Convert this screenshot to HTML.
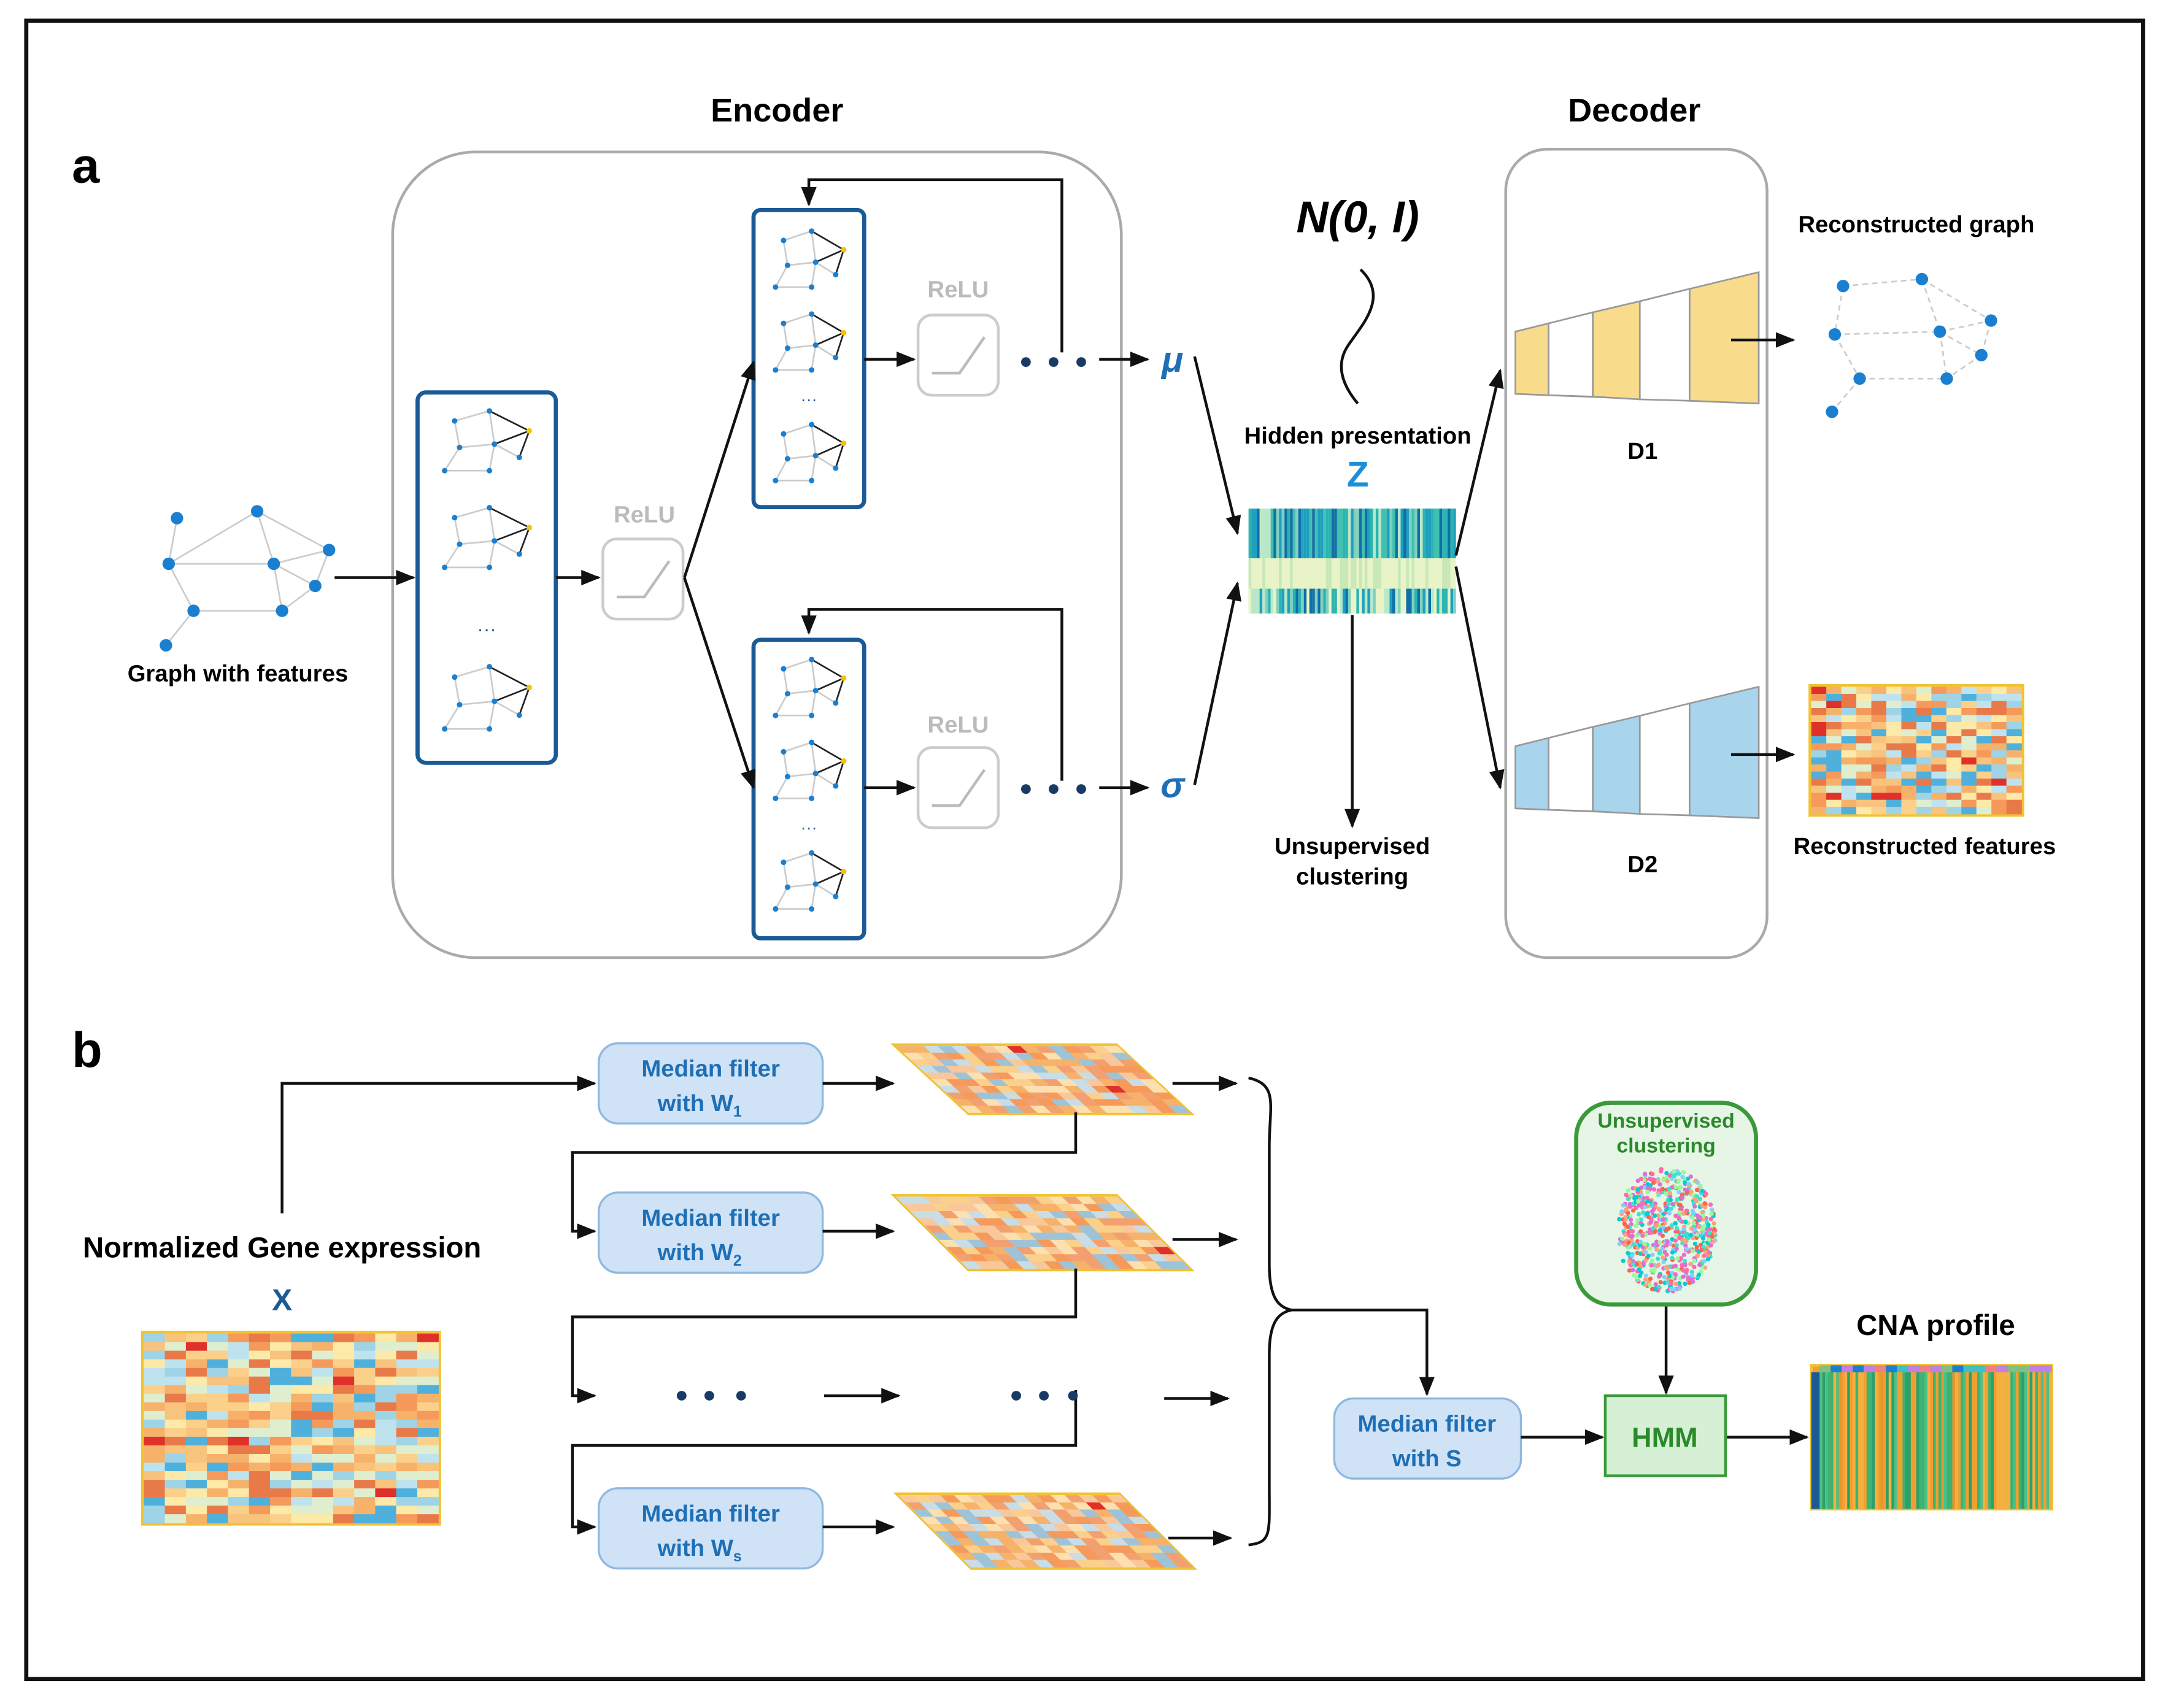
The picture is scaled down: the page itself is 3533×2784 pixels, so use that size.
<!DOCTYPE html>
<html><head><meta charset="utf-8">
<style>
html,body{margin:0;padding:0;background:#fff;}
svg{display:block;}
text{font-family:"Liberation Sans","DejaVu Sans",sans-serif;}
</style></head>
<body>
<svg id="s" xmlns="http://www.w3.org/2000/svg" width="3533" height="2784" viewBox="0 0 1568 1236" preserveAspectRatio="none">
<defs>
<marker id="ar" viewBox="0 0 10 10" refX="9" refY="5" markerWidth="7" markerHeight="7" orient="auto-start-reverse"><path d="M0,1 L10,5 L0,9 z" fill="#111"/></marker>
</defs>
<rect x="0" y="0" width="1568" height="1236" fill="#fff"/>
<rect x="19" y="15" width="1531" height="1200" fill="none" stroke="#111" stroke-width="3"/>

<!-- labels -->
<text x="52" y="132" font-size="36" font-weight="bold">a</text>
<text x="52" y="772" font-size="36" font-weight="bold">b</text>
<text x="562" y="88" font-size="24" font-weight="bold" text-anchor="middle">Encoder</text>
<text x="1182" y="88" font-size="24" font-weight="bold" text-anchor="middle">Decoder</text>

<rect x="284" y="110" width="527" height="583" rx="60" fill="none" stroke="#aaa" stroke-width="2"/>
<rect x="1089" y="108" width="189" height="585" rx="30" fill="none" stroke="#aaa" stroke-width="2"/>

<g id="graphs"></g>

<text x="172" y="493" font-size="17" font-weight="bold" text-anchor="middle">Graph with features</text>
<line x1="242" y1="418" x2="299" y2="418" stroke="#111" stroke-width="2" marker-end="url(#ar)"/>

<rect x="302" y="284" width="100" height="268" rx="6" fill="none" stroke="#1a5a96" stroke-width="3"/>
<rect x="545" y="152" width="80" height="215" rx="5" fill="none" stroke="#1a5a96" stroke-width="3"/>
<rect x="545" y="463" width="80" height="216" rx="5" fill="none" stroke="#1a5a96" stroke-width="3"/>
<text x="352" y="460" font-size="14" text-anchor="middle" fill="#1a5a96">···</text>
<text x="585" y="293" font-size="12" text-anchor="middle" fill="#1a5a96">···</text>
<text x="585" y="603" font-size="12" text-anchor="middle" fill="#1a5a96">···</text>

<line x1="402" y1="418" x2="433" y2="418" stroke="#111" stroke-width="2" marker-end="url(#ar)"/>
<text x="466" y="378" font-size="17" font-weight="bold" fill="#bbb" text-anchor="middle">ReLU</text>
<rect x="436" y="390" width="58" height="58" rx="10" fill="#fff" stroke="#ccc" stroke-width="2"/>
<path d="M446,432 L466,432 L484,406" fill="none" stroke="#bbb" stroke-width="2"/>
<line x1="495" y1="418" x2="545" y2="262" stroke="#111" stroke-width="2" marker-end="url(#ar)"/>
<line x1="495" y1="418" x2="545" y2="570" stroke="#111" stroke-width="2" marker-end="url(#ar)"/>

<line x1="625" y1="260" x2="661" y2="260" stroke="#111" stroke-width="2" marker-end="url(#ar)"/>
<text x="693" y="215" font-size="17" font-weight="bold" fill="#bbb" text-anchor="middle">ReLU</text>
<rect x="664" y="228" width="58" height="58" rx="10" fill="#fff" stroke="#ccc" stroke-width="2"/>
<path d="M674,270 L694,270 L712,244" fill="none" stroke="#bbb" stroke-width="2"/>
<circle cx="742" cy="262" r="3.5" fill="#1a3a66"/><circle cx="762" cy="262" r="3.5" fill="#1a3a66"/><circle cx="782" cy="262" r="3.5" fill="#1a3a66"/>
<line x1="795" y1="260" x2="830" y2="260" stroke="#111" stroke-width="2" marker-end="url(#ar)"/>
<text x="848" y="269" font-size="26" font-weight="bold" font-style="italic" fill="#1e6fb5" text-anchor="middle" font-family="Liberation Serif,serif">μ</text>
<path d="M768,255 L768,130 L585,130 L585,148" fill="none" stroke="#111" stroke-width="2" marker-end="url(#ar)"/>

<line x1="625" y1="570" x2="661" y2="570" stroke="#111" stroke-width="2" marker-end="url(#ar)"/>
<text x="693" y="530" font-size="17" font-weight="bold" fill="#bbb" text-anchor="middle">ReLU</text>
<rect x="664" y="541" width="58" height="58" rx="10" fill="#fff" stroke="#ccc" stroke-width="2"/>
<path d="M674,583 L694,583 L712,557" fill="none" stroke="#bbb" stroke-width="2"/>
<circle cx="742" cy="571" r="3.5" fill="#1a3a66"/><circle cx="762" cy="571" r="3.5" fill="#1a3a66"/><circle cx="782" cy="571" r="3.5" fill="#1a3a66"/>
<line x1="795" y1="570" x2="830" y2="570" stroke="#111" stroke-width="2" marker-end="url(#ar)"/>
<text x="848" y="577" font-size="26" font-weight="bold" font-style="italic" fill="#1e6fb5" text-anchor="middle" font-family="Liberation Serif,serif">σ</text>
<path d="M768,565 L768,441 L585,441 L585,458" fill="none" stroke="#111" stroke-width="2" marker-end="url(#ar)"/>

<line x1="864" y1="258" x2="895" y2="386" stroke="#111" stroke-width="2" marker-end="url(#ar)"/>
<line x1="864" y1="568" x2="895" y2="422" stroke="#111" stroke-width="2" marker-end="url(#ar)"/>

<text x="982" y="168" font-size="32" font-weight="bold" font-style="italic" text-anchor="middle" font-family="Liberation Serif,serif">N(0, I)</text>
<path d="M984,195 C1005,215 985,235 975,250 C965,265 972,280 982,292" fill="none" stroke="#111" stroke-width="2"/>
<text x="982" y="321" font-size="17" font-weight="bold" text-anchor="middle">Hidden presentation</text>
<text x="982" y="352" font-size="26" font-weight="bold" fill="#1e8fd6" text-anchor="middle">Z</text>
<g id="zmap"></g>
<line x1="978" y1="445" x2="978" y2="598" stroke="#111" stroke-width="2" marker-end="url(#ar)"/>
<text x="978" y="618" font-size="17" font-weight="bold" text-anchor="middle">Unsupervised</text>
<text x="978" y="640" font-size="17" font-weight="bold" text-anchor="middle">clustering</text>
<line x1="1053" y1="402" x2="1085" y2="268" stroke="#111" stroke-width="2" marker-end="url(#ar)"/>
<line x1="1053" y1="410" x2="1085" y2="570" stroke="#111" stroke-width="2" marker-end="url(#ar)"/>

<!-- D1 -->
<g stroke="#999" stroke-width="1.2">
<line x1="1096" y1="240" x2="1272" y2="197"/><line x1="1096" y1="285" x2="1272" y2="292"/>
<polygon points="1096,240 1120,234 1120,286 1096,285" fill="#f8dc8c"/>
<polygon points="1120,234 1152,226 1152,287 1120,286" fill="#fff"/>
<polygon points="1152,226 1186,218 1186,289 1152,287" fill="#f8dc8c"/>
<polygon points="1186,218 1222,209 1222,290 1186,289" fill="#fff"/>
<polygon points="1222,209 1272,197 1272,292 1222,290" fill="#f8dc8c"/>
</g>
<text x="1188" y="332" font-size="17" font-weight="bold" text-anchor="middle">D1</text>
<g stroke="#999" stroke-width="1.2">
<line x1="1096" y1="540" x2="1272" y2="497"/><line x1="1096" y1="585" x2="1272" y2="592"/>
<polygon points="1096,540 1120,534 1120,586 1096,585" fill="#a9d5ec"/>
<polygon points="1120,534 1152,526 1152,587 1120,586" fill="#fff"/>
<polygon points="1152,526 1186,518 1186,589 1152,587" fill="#a9d5ec"/>
<polygon points="1186,518 1222,509 1222,590 1186,589" fill="#fff"/>
<polygon points="1222,509 1272,497 1272,592 1222,590" fill="#a9d5ec"/>
</g>
<text x="1188" y="631" font-size="17" font-weight="bold" text-anchor="middle">D2</text>
<line x1="1252" y1="246" x2="1297" y2="246" stroke="#111" stroke-width="2" marker-end="url(#ar)"/>
<line x1="1252" y1="546" x2="1297" y2="546" stroke="#111" stroke-width="2" marker-end="url(#ar)"/>
<text x="1386" y="168" font-size="17" font-weight="bold" text-anchor="middle">Reconstructed graph</text>
<text x="1392" y="618" font-size="17" font-weight="bold" text-anchor="middle">Reconstructed features</text>

<!-- part b -->
<text x="204" y="910" font-size="21" font-weight="bold" text-anchor="middle">Normalized Gene expression</text>
<text x="204" y="948" font-size="22" font-weight="bold" fill="#1a5a96" text-anchor="middle">X</text>
<path d="M204,878 L204,784 L430,784" fill="none" stroke="#111" stroke-width="2" marker-end="url(#ar)"/>

<g font-size="17" font-weight="bold" fill="#1e6fb5" text-anchor="middle">
<rect x="433" y="755" width="162" height="58" rx="14" fill="#cfe2f6" stroke="#8fb8e0" stroke-width="1.5"/>
<text x="514" y="779">Median filter</text><text x="506" y="804">with W<tspan font-size="11" dy="4">1</tspan></text>
<rect x="433" y="863" width="162" height="58" rx="14" fill="#cfe2f6" stroke="#8fb8e0" stroke-width="1.5"/>
<text x="514" y="887">Median filter</text><text x="506" y="912">with W<tspan font-size="11" dy="4">2</tspan></text>
<rect x="433" y="1077" width="162" height="58" rx="14" fill="#cfe2f6" stroke="#8fb8e0" stroke-width="1.5"/>
<text x="514" y="1101">Median filter</text><text x="506" y="1126">with W<tspan font-size="11" dy="4">s</tspan></text>
<rect x="965" y="1012" width="135" height="58" rx="14" fill="#cfe2f6" stroke="#8fb8e0" stroke-width="1.5"/>
<text x="1032" y="1036">Median filter</text><text x="1032" y="1061">with S</text>
</g>
<g id="skews"></g>
<g stroke="#111" stroke-width="2" fill="none">
<line x1="595" y1="784" x2="646" y2="784" marker-end="url(#ar)"/>
<line x1="848" y1="784" x2="894" y2="784" marker-end="url(#ar)"/>
<path d="M778,805 L778,834 L414,834 L414,891 L430,891" marker-end="url(#ar)"/>
<line x1="595" y1="891" x2="646" y2="891" marker-end="url(#ar)"/>
<line x1="848" y1="897" x2="894" y2="897" marker-end="url(#ar)"/>
<path d="M778,918 L778,953 L414,953 L414,1010 L430,1010" marker-end="url(#ar)"/>
<line x1="596" y1="1010" x2="650" y2="1010" marker-end="url(#ar)"/>
<line x1="842" y1="1012" x2="888" y2="1012" marker-end="url(#ar)"/>
<path d="M778,1006 L778,1046 L414,1046 L414,1105 L430,1105" marker-end="url(#ar)"/>
<line x1="595" y1="1105" x2="646" y2="1105" marker-end="url(#ar)"/>
<line x1="845" y1="1113" x2="890" y2="1113" marker-end="url(#ar)"/>
<path d="M903,780 C925,785 918,800 918,830 L918,915 C918,940 925,946 934,948 C925,950 918,956 918,980 L918,1075 C918,1110 920,1116 903,1118"/>
<path d="M932,948 L1032,948 L1032,1009" marker-end="url(#ar)"/>
<line x1="1100" y1="1040" x2="1159" y2="1040" marker-end="url(#ar)"/>
<line x1="1205" y1="944" x2="1205" y2="1008" marker-end="url(#ar)"/>
<line x1="1248" y1="1040" x2="1307" y2="1040" marker-end="url(#ar)"/>
</g>
<circle cx="493" cy="1010" r="3.5" fill="#1a3a66"/><circle cx="513" cy="1010" r="3.5" fill="#1a3a66"/><circle cx="536" cy="1010" r="3.5" fill="#1a3a66"/>
<circle cx="735" cy="1010" r="3.5" fill="#1a3a66"/><circle cx="755" cy="1010" r="3.5" fill="#1a3a66"/><circle cx="776" cy="1010" r="3.5" fill="#1a3a66"/>

<rect x="1161" y="1010" width="87" height="58" fill="#d5f0d5" stroke="#3a9a3a" stroke-width="2"/>
<text x="1204" y="1047" font-size="20" font-weight="bold" fill="#2a8a2a" text-anchor="middle">HMM</text>
<rect x="1140" y="798" width="130" height="146" rx="25" fill="#e6f5e6" stroke="#3a9a3a" stroke-width="3"/>
<text x="1205" y="816" font-size="15" font-weight="bold" fill="#2a8a2a" text-anchor="middle">Unsupervised</text>
<text x="1205" y="834" font-size="15" font-weight="bold" fill="#2a8a2a" text-anchor="middle">clustering</text>
<g id="blob"></g>
<text x="1400" y="966" font-size="21" font-weight="bold" text-anchor="middle">CNA profile</text>
<g id="maps"></g>
</svg>
<script>
var NS="http://www.w3.org/2000/svg";
var seed=7;function R(){seed=(seed*16807)%2147483647;return (seed-1)/2147483646;}
function el(p,t,a){var e=document.createElementNS(NS,t);for(var k in a)e.setAttribute(k,a[k]);p.appendChild(e);return e;}
function G(id){return document.getElementById(id);}
// graphs
function graph(p,nodes,edges,col,r,hub){
 edges.forEach(function(e){el(p,"line",{x1:nodes[e[0]][0],y1:nodes[e[0]][1],x2:nodes[e[1]][0],y2:nodes[e[1]][1],stroke:e[2]?"#222":"#ccc","stroke-width":e[2]?1.2:1.2,"stroke-dasharray":col=="d"?"4,3":"none"});});
 nodes.forEach(function(n,i){el(p,"circle",{cx:n[0],cy:n[1],r:r,fill:(hub===i)?"#f5c400":"#1a7fd0"});});
}
var g=G("graphs");
graph(g,[[128,375],[186,370],[122,408],[198,408],[238,398],[228,424],[140,442],[204,442],[120,467]],
 [[0,2],[1,2],[1,3],[1,4],[3,4],[3,5],[2,6],[2,3],[6,7],[7,5],[3,7],[6,8],[4,5]],"s",4.5);
graph(g,[[1333,207],[1390,202],[1440,232],[1327,242],[1403,240],[1433,257],[1345,274],[1408,274],[1325,298]],
 [[0,1],[1,2],[0,3],[1,4],[3,4],[4,2],[4,5],[5,7],[3,6],[6,7],[4,7],[6,8],[2,5]],"d",4.5);
function mini(x,y,w,h){
 var n=[[x+.15*w,y+.2*h],[x+.5*w,y+.05*h],[x+.9*w,y+.35*h],[x+.2*w,y+.6*h],[x+.55*w,y+.55*h],[x+.8*w,y+.75*h],[x+.05*w,y+.95*h],[x+.5*w,y+.95*h]];
 var e=[[0,1],[0,3],[3,4],[1,4],[3,6],[6,7],[4,7],[4,5],[1,2,1],[4,2,1],[5,2,1]];
 graph(g,n,e,"s",2,2);
}
mini(318,295,72,48);mini(318,365,72,48);mini(318,480,72,50);
mini(558,165,58,45);mini(558,225,58,45);mini(558,305,58,45);
mini(558,475,58,45);mini(558,535,58,45);mini(558,615,58,45);
// Z map
var z=G("zmap");el(z,"rect",{x:903,y:368,width:150,height:76,fill:"#e8f4c8"});
for(var x=903;x<1053;x+=2){var c=["#2ab3b3","#1f9fc0","#7fd0c0","#0f6fa8","#b8e8c8","#40c0b0"][Math.floor(R()*6)];
 el(z,"rect",{x:x,y:368,width:2,height:36,fill:c});
 c=["#2ab3b3","#1f9fc0","#7fd0c0","#0f6fa8","#b8e8c8","#e8f4c8"][Math.floor(R()*6)];
 el(z,"rect",{x:x,y:426,width:2,height:18,fill:c});
 if(R()<.3)el(z,"rect",{x:x,y:404,width:2,height:22,fill:"#c8e8b8"});}
// heatmaps
var hc=["#f6b26b","#fbd08a","#fde9a8","#f59a5a","#9fd3e6","#4fb0dc","#dfeecf","#f8c37c","#e87a4a","#bfe3ee"];
function heat(p,x,y,w,h,cols,rows,cs){var cw=w/cols,rh=h/rows;
 el(p,"rect",{x:x-1,y:y-1,width:w+2,height:h+2,fill:"none",stroke:"#f1c232","stroke-width":2});
 for(var i=0;i<cols;i++)for(var j=0;j<rows;j++){var c=cs[Math.floor(R()*cs.length)];if(R()<.015)c="#e0302a";
 el(p,"rect",{x:x+i*cw,y:y+j*rh,width:cw+.3,height:rh+.3,fill:c});}}
var m=G("maps");
heat(m,104,965,213,137,14,22,hc);
heat(m,1310,497,152,92,14,18,hc);
// CNA
el(m,"rect",{x:1310,y:988,width:174,height:104,fill:"#f0a030",stroke:"#f1c232","stroke-width":2});
for(var x=1316;x<1484;x+=2){var c=R()<.45?["#3cb371","#4cc08a","#2aa06a"][Math.floor(R()*3)]:["#f0a030","#e8962a","#f4b040"][Math.floor(R()*3)];el(m,"rect",{x:x,y:993,width:2,height:99,fill:c});}
el(m,"rect",{x:1310,y:993,width:6,height:99,fill:"#1a5a96"});
for(var x=1316;x<1484;x+=8)el(m,"rect",{x:x,y:988,width:8,height:5,fill:["#1a7fd0","#f08080","#80c080","#c080e0","#40c0c0"][Math.floor(R()*5)]});
// skewed maps
var s=G("skews");
function skew(x,y,w,h,sh){var gg=el(s,"g",{transform:"translate("+x+","+y+") matrix(1,0,"+(sh/h)+",1,0,0)"});heat(gg,0,0,w,h,16,10,["#f6b26b","#fbd08a","#f9c89a","#f59a5a","#9fc3d6","#c8dde6","#f3a070","#fde0b0"]);}
skew(648,757,160,48,52);skew(648,866,160,52,52);skew(650,1082,160,52,52);
// blob
var b=G("blob");var bc=["#ff69b4","#40e0d0","#00ced1","#da70d6","#ffa07a","#87cefa","#ff6347","#98fb98"];
for(var i=0;i<700;i++){var a=R()*6.283,r=Math.sqrt(R());var cx=1205+Math.cos(a)*r*36,cy=890+Math.sin(a)*r*45;el(b,"circle",{cx:cx,cy:cy,r:1.6,fill:bc[Math.floor(R()*8)]});}
</script>
</body></html>
